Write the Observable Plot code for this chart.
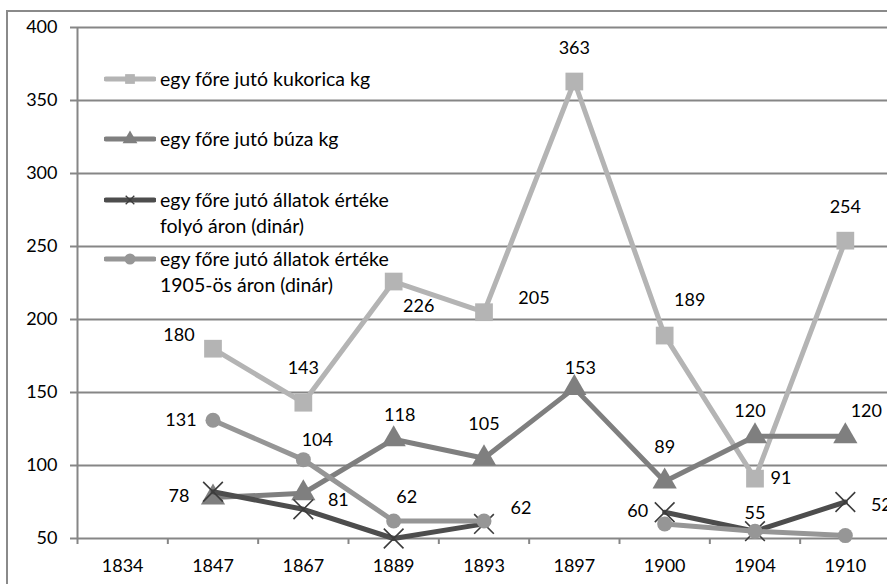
<!DOCTYPE html>
<html><head><meta charset="utf-8">
<script src="https://cdn.jsdelivr.net/npm/d3@7"></script>
<script src="https://cdn.jsdelivr.net/npm/@observablehq/plot@0.6"></script>
<style>
body{margin:0;background:#fff;}
#wrap{position:relative;width:887px;height:584px;overflow:hidden;font-family:Lato,sans-serif;color:#000;}
#border{position:absolute;left:6px;top:10px;width:1000px;height:1000px;border:2px solid #8a8a8a;box-sizing:border-box;}
#chart{position:absolute;left:0;top:0;}
#legend{position:absolute;left:104px;top:0;width:320px;height:320px;}
.item{position:absolute;left:0;display:flex;align-items:flex-start;}
.item svg{flex:none;}
.item span{font-size:19.5px;line-height:26px;margin-left:4px;white-space:nowrap;}
</style></head><body>
<div id="wrap"><div id="border"></div><div id="chart"></div><div id="legend"></div></div>
<script>
// ---- data ----
const years = ["1834","1847","1867","1889","1893","1897","1900","1904","1910"];
const kukorica   = [null,180,143,226,205,363,189, 91,254];
const buza       = [null, 78, 81,118,105,153, 89,120,120];
const allatFolyo = [null, 82, 70, 50, 60,null, 68, 55, 75];
const allat1905  = [null,131,104, 62, 62,null, 60, 55, 52];
const yTicks = [50,100,150,200,250,300,350,400];
const seriesNames = [
  "egy főre jutó kukorica kg",
  "egy főre jutó búza kg",
  "egy főre jutó állatok értéke\nfolyó áron (dinár)",
  "egy főre jutó állatok értéke\n1905-ös áron (dinár)"
];

// ---- styling / label placement (not data) ----
const series = [
  {name: seriesNames[0], values: kukorica,   color: "#b4b4b4", symbol: "square",   r: 10,  labels: true,
   off: [null,[-34,-13],[0,-34],[25,25],[50,-14],[0,-33],[25,-35],[26,0],[0,-33]]},
  {name: seriesNames[1], values: buza,       color: "#7f7f7f", symbol: "triangle", r: 9,   labels: true,
   off: [null,[-34,-1],[35,7],[6,-24],[0,-34],[6,-20],[0,-34],[-5,-25],[21,-25]]},
  {name: seriesNames[2], values: allatFolyo, color: "#4d4d4d", symbol: "times",    r: 9,   labels: false},
  {name: seriesNames[3], values: allat1905,  color: "#969696", symbol: "circle",   r: 7.5, labels: true,
   off: [null,[-32,0],[14,-19],[13,-24],[37,-13],null,[-27,-13],[0,-18],[36,-30]]}
];

const grid = "#868686";
const marks = [
  Plot.gridY({ticks: yTicks, stroke: grid, strokeWidth: 2, strokeOpacity: 1}),
  Plot.ruleX([-0.5], {stroke: grid, strokeWidth: 2}),
  Plot.axisY({ticks: yTicks, tickSize: 7, tickFormat: () => "", stroke: grid, strokeWidth: 2, label: null}),
  Plot.axisY({ticks: yTicks, tickSize: 0, tickPadding: 20, fill: "#000", fontSize: 18, label: null}),
  Plot.axisX({ticks: d3.range(-0.5, 9, 1), tickSize: 6, tickFormat: () => "", stroke: grid, strokeWidth: 2, label: null}),
  Plot.axisX({ticks: d3.range(0, 9), tickSize: 0, tickPadding: 21, tickFormat: i => years[i], fill: "#000", fontSize: 18, label: null})
];

for (const s of series) {
  const rows = years.map((y, i) => ({i, v: s.values[i]}));
  marks.push(Plot.line(rows, {x: "i", y: "v", stroke: s.color, strokeWidth: 5}));
  const pts = rows.filter(d => d.v != null);
  if (s.symbol === "times") {
    marks.push(Plot.dot(pts, {x: "i", y: "v", symbol: "times", r: s.r, stroke: "#3c3c3c", strokeWidth: 1.6}));
  } else {
    marks.push(Plot.dot(pts, {x: "i", y: "v", symbol: s.symbol, r: s.r, fill: s.color, stroke: "none"}));
  }
}
for (const s of series) {
  if (!s.labels) continue;
  years.forEach((y, i) => {
    const v = s.values[i];
    if (v == null || !s.off[i]) return;
    marks.push(Plot.text([{i, v}], {x: "i", y: "v", text: d => String(d.v),
      dx: s.off[i][0], dy: s.off[i][1], fill: "#000", fontSize: 18}));
  });
}

const chart = Plot.plot({
  width: 887, height: 584,
  marginLeft: 77, marginRight: 0, marginTop: 27, marginBottom: 46,
  x: {type: "linear", domain: [-0.5, 8.5], range: [77, 890], label: null},
  y: {domain: [50, 400], label: null},
  style: {fontFamily: "Lato, sans-serif", fontSize: "18px", background: "transparent", overflow: "visible", color: "#000"},
  marks
});
document.getElementById("chart").appendChild(chart);

// legend
const legendTops = [66, 126, 187, 246];
const leg = d3.select("#legend");
series.forEach((s, k) => {
  const item = leg.append("div").attr("class", "item").style("top", legendTops[k] + "px");
  const sv = item.append("svg").attr("width", 52).attr("height", 26);
  sv.append("line").attr("x1", 2).attr("x2", 50).attr("y1", 13).attr("y2", 13)
    .attr("stroke", s.color).attr("stroke-width", 5).attr("stroke-linecap", "round");
  const sym = {square: d3.symbolSquare, triangle: d3.symbolTriangle, times: d3.symbolTimes, circle: d3.symbolCircle}[s.symbol];
  const p = sv.append("path").attr("transform", "translate(26,13)")
    .attr("d", d3.symbol(sym, s.symbol === "times" ? 50 : 95)());
  if (s.symbol === "times") p.attr("fill", "none").attr("stroke", "#3c3c3c").attr("stroke-width", 1.3);
  else p.attr("fill", s.color);
  const span = item.append("span");
  s.name.split("\n").forEach((line, j) => { if (j) span.append("br"); span.append("tspan").text(line); });
});
</script>
</body></html>
